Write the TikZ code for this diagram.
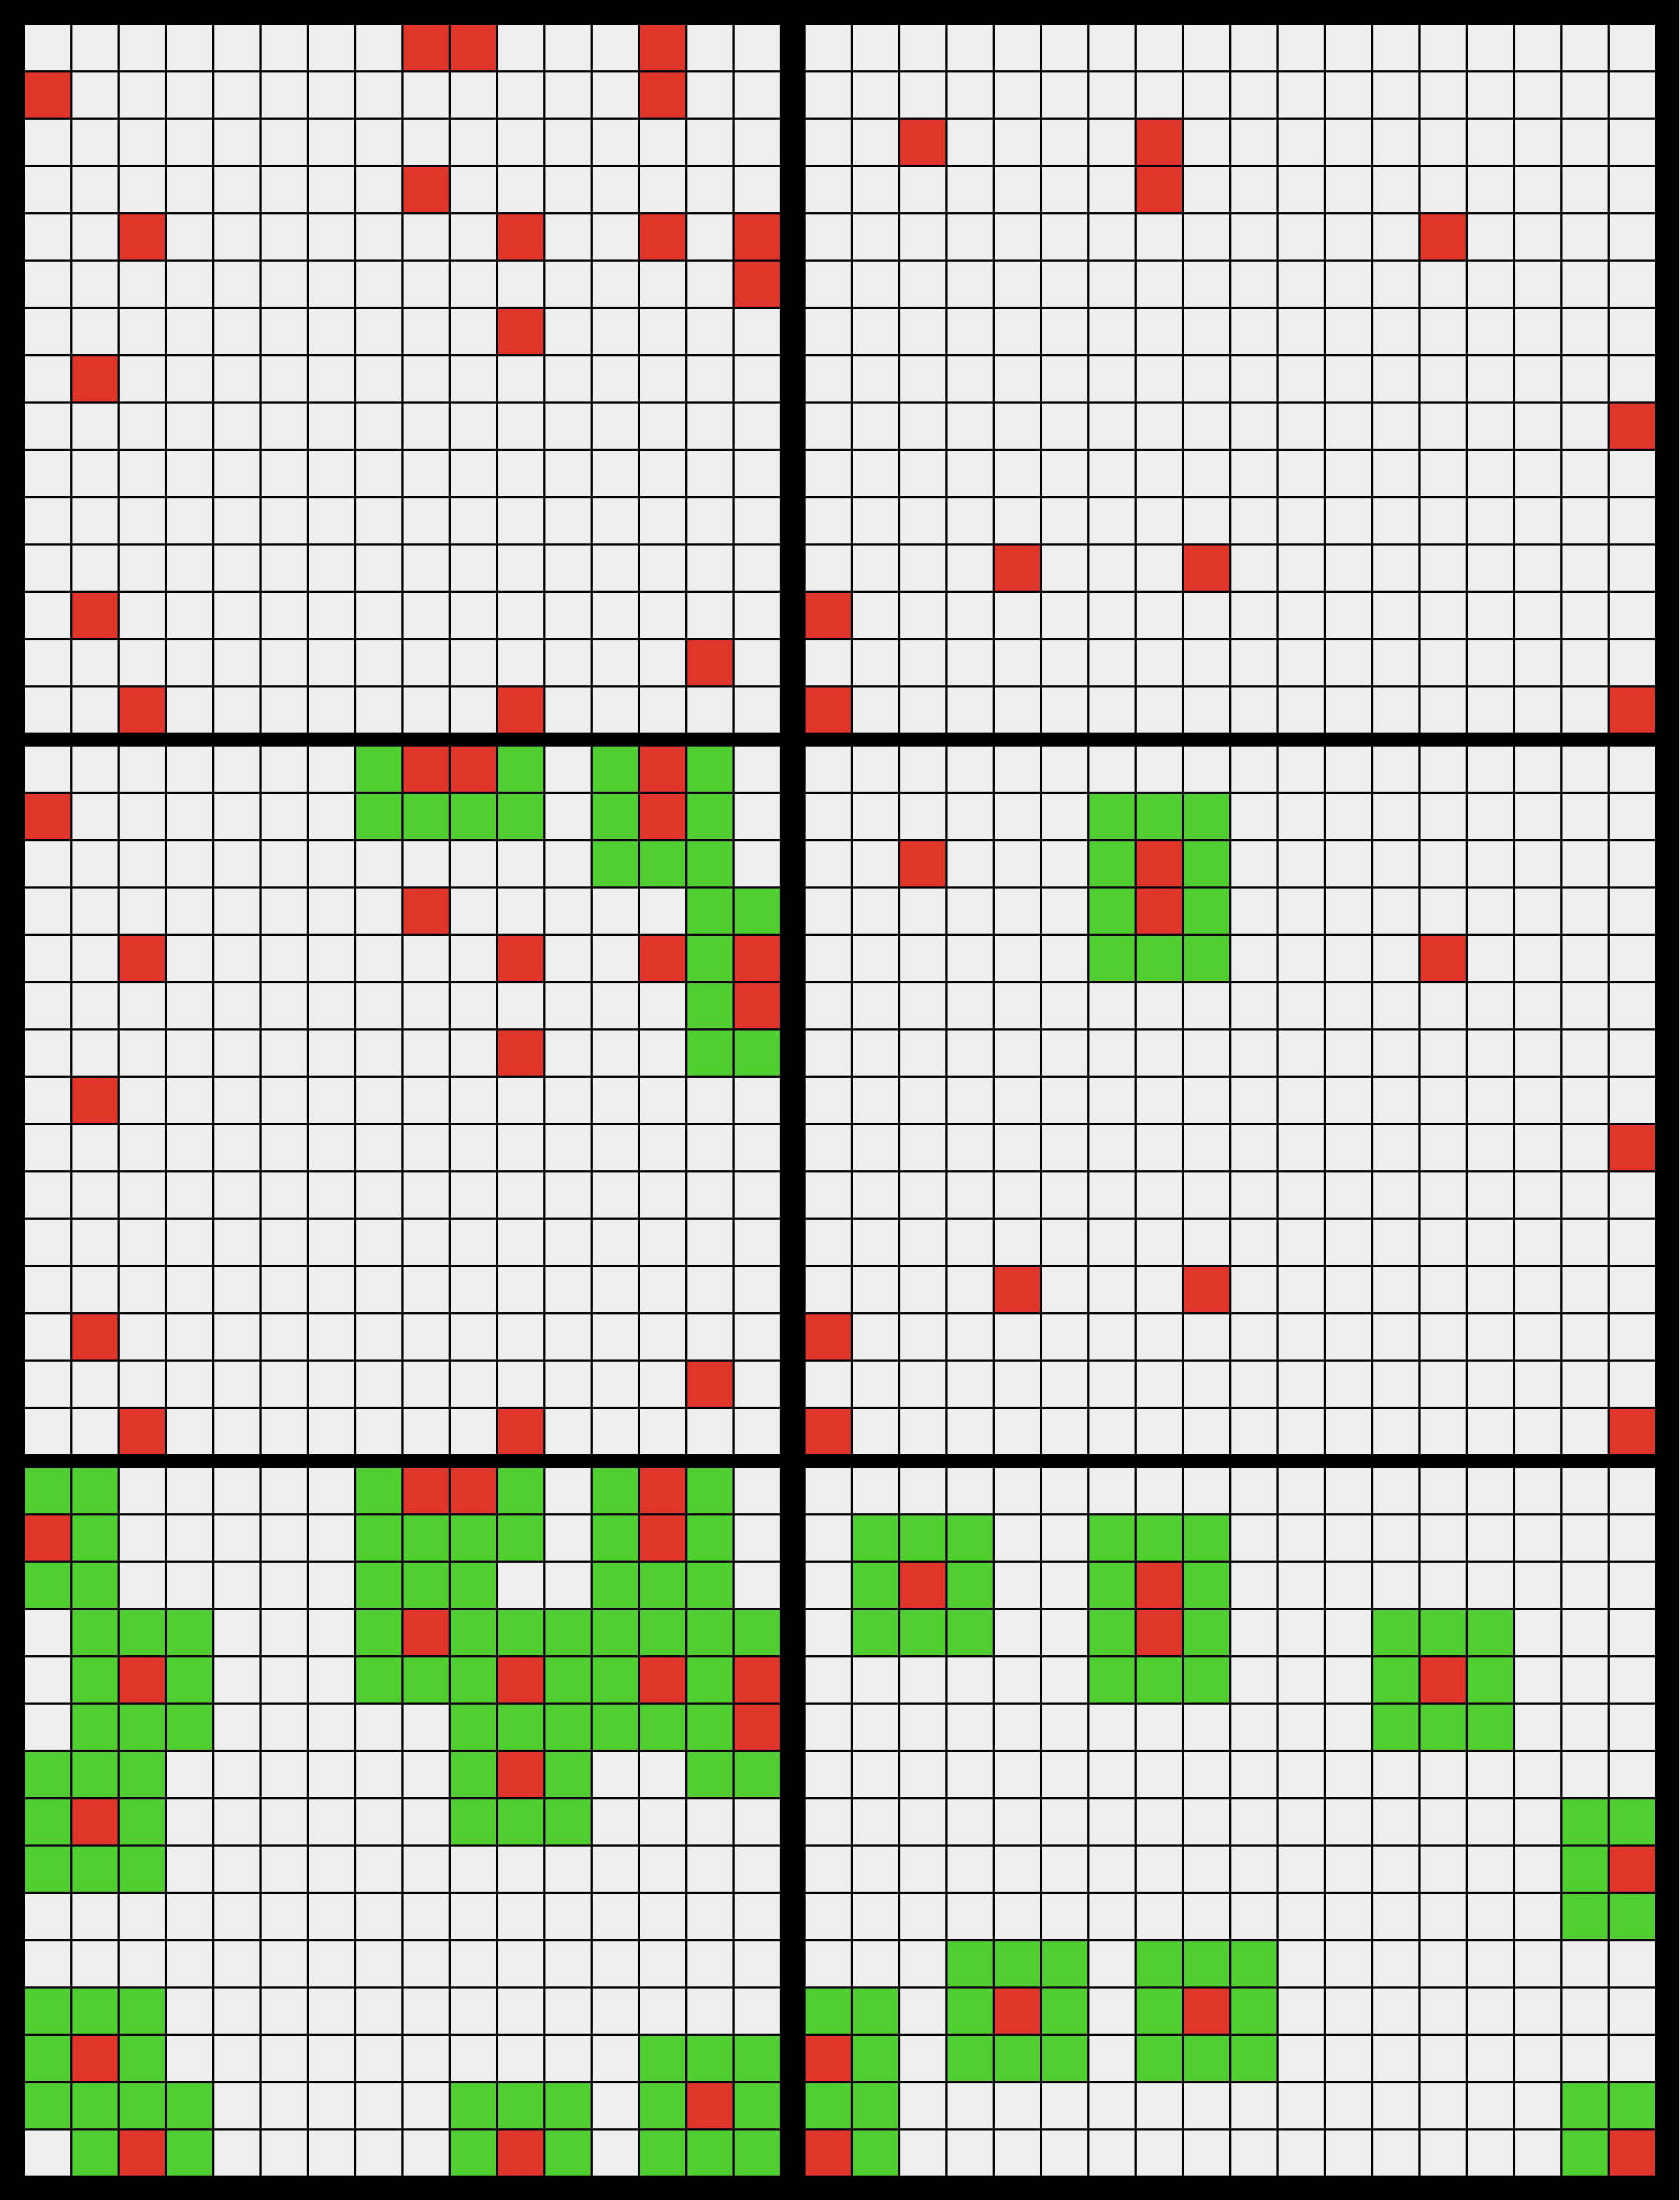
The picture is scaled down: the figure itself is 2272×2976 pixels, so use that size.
\documentclass[tikz,border=0pt]{standalone}
\usepackage{tikz}
\usepackage{xcolor}
\definecolor{cellgray}{RGB}{238,238,238}
\definecolor{hitred}{RGB}{224,53,41}
\definecolor{spreadgreen}{RGB}{80,206,50}

\begin{document}
\begin{tikzpicture}[x=0.01cm, y=-0.01cm,
        free/.style={fill=cellgray},
        hit/.style={fill=hitred},
        spread/.style={fill=spreadgreen}
    ]
    \fill[black] (0,0) rectangle (2272,2976);

    % three copies of both maps
    \foreach \py in {34,1010,1986} {
        \foreach \px/\last in {34/15,1090/17}
            \foreach \r in {0,...,14}
                \foreach \c in {0,...,\last}
                    \fill[free] (\px+64*\c,\py+64*\r) rectangle ++(61,61);
        \foreach \c/\r in {8/0,9/0,13/0,0/1,13/1,8/3,2/4,10/4,13/4,15/4,
                           15/5,10/6,1/7,1/12,14/13,2/14,10/14}
            \fill[hit] (34+64*\c,\py+64*\r) rectangle ++(61,61);
        \foreach \c/\r in {2/2,7/2,7/3,13/4,17/8,4/11,8/11,0/12,0/14,17/14}
            \fill[hit] (1090+64*\c,\py+64*\r) rectangle ++(61,61);
    }

    % middle row: pairs only
    \foreach \r/\cs in {0/{7,10,12,14},1/{7,8,9,10,12,14},2/{12,13,14},
                        3/{14,15},4/{14},5/{14},6/{14,15}}
        \foreach \c in \cs
            \fill[spread] (34+64*\c,1010+64*\r) rectangle ++(61,61);
    \foreach \r/\cs in {1/{6,7,8},2/{6,8},3/{6,8},4/{6,7,8}}
        \foreach \c in \cs
            \fill[spread] (1090+64*\c,1010+64*\r) rectangle ++(61,61);

    % bottom row: every hit
    \foreach \r/\cs in {0/{0,1,7,10,12,14},1/{1,7,8,9,10,12,14},
                        2/{0,1,7,8,9,12,13,14},3/{1,2,3,7,9,10,11,12,13,14,15},
                        4/{1,3,7,8,9,11,12,14},5/{1,2,3,9,10,11,12,13,14},
                        6/{0,1,2,9,11,14,15},7/{0,2,9,10,11},8/{0,1,2},
                        11/{0,1,2},12/{0,2,13,14,15},
                        13/{0,1,2,3,9,10,11,13,15},14/{1,3,9,11,13,14,15}}
        \foreach \c in \cs
            \fill[spread] (34+64*\c,1986+64*\r) rectangle ++(61,61);
    \foreach \r/\cs in {1/{1,2,3,6,7,8},2/{1,3,6,8},3/{1,2,3,6,8,12,13,14},
                        4/{6,7,8,12,14},5/{12,13,14},7/{16,17},8/{16},
                        9/{16,17},10/{3,4,5,7,8,9},11/{0,1,3,5,7,9},
                        12/{1,3,4,5,7,8,9},13/{0,1,16,17},14/{1,16}}
        \foreach \c in \cs
            \fill[spread] (1090+64*\c,1986+64*\r) rectangle ++(61,61);
\end{tikzpicture}
\end{document}
